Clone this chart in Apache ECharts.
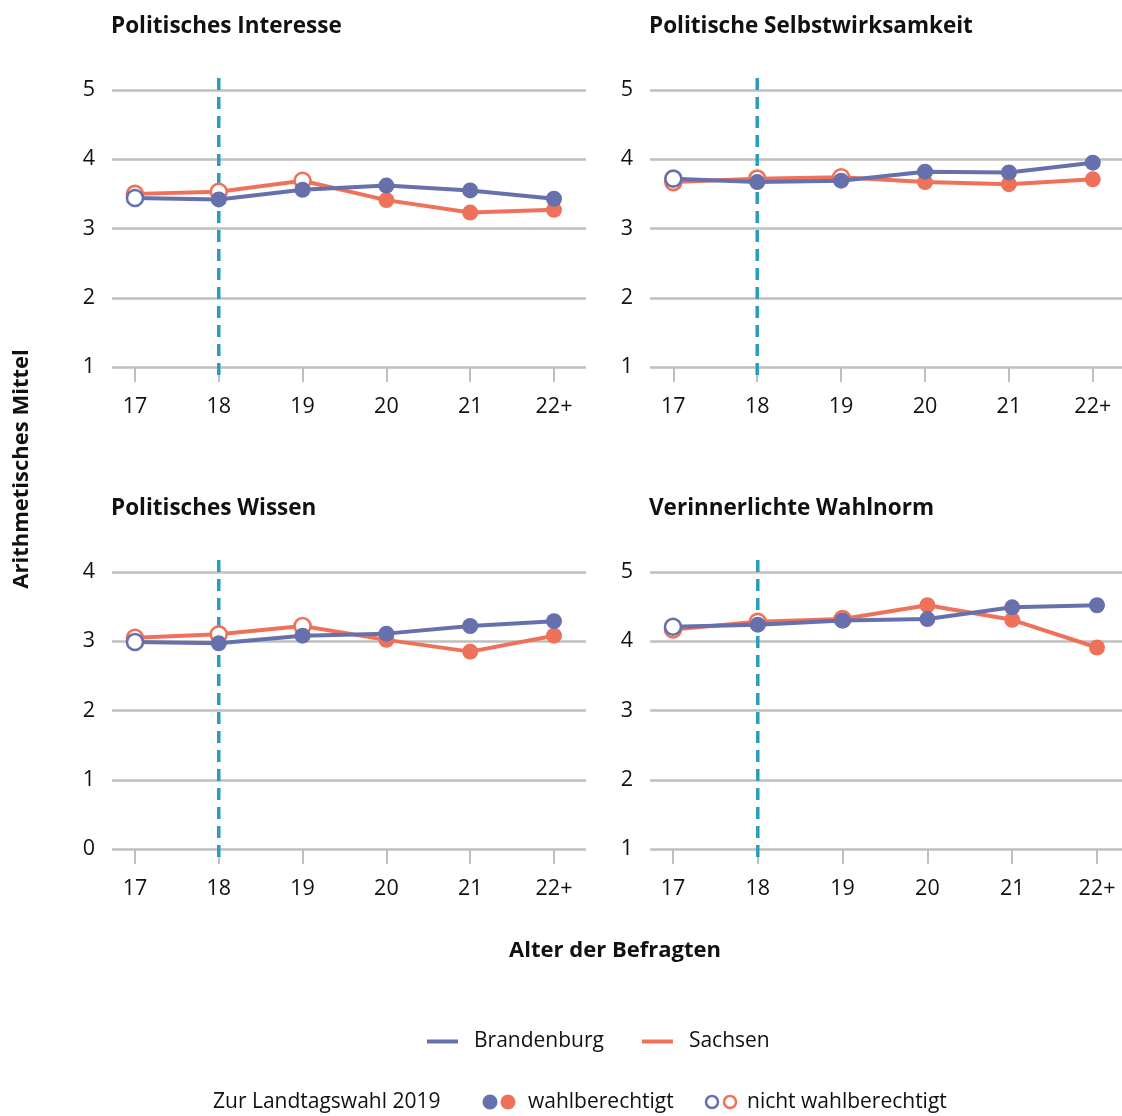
<!DOCTYPE html>
<html>
<head>
<meta charset="utf-8">
<script src="https://cdn.jsdelivr.net/npm/echarts@6/dist/echarts.min.js"></script>
<style>
html,body{margin:0;padding:0;background:#fff;}
#chart{width:1122px;height:1116px;}
</style>
</head>
<body>
<div id="chart"></div>
<script>
// ---- data ----
const AGES = [17, 18, 19, 20, 21, 22];
const AGE_LABELS = ['17', '18', '19', '20', '21', '22+'];
const VOTING_AGE = 18;

const PANEL_TITLES = ['Politisches Interesse', 'Politische Selbstwirksamkeit', 'Politisches Wissen', 'Verinnerlichte Wahlnorm'];

const BB_INTERESSE = [3.44, 3.42, 3.56, 3.62, 3.55, 3.43];
const SN_INTERESSE = [3.50, 3.53, 3.69, 3.41, 3.23, 3.27];
const BB_SELBST = [3.72, 3.67, 3.69, 3.82, 3.81, 3.95];
const SN_SELBST = [3.67, 3.72, 3.74, 3.67, 3.64, 3.71];
const BB_WISSEN = [2.99, 2.97, 3.08, 3.11, 3.22, 3.29];
const SN_WISSEN = [3.05, 3.10, 3.22, 3.02, 2.85, 3.08];
const BB_WAHLNORM = [4.21, 4.24, 4.30, 4.32, 4.49, 4.52];
const SN_WAHLNORM = [4.17, 4.28, 4.32, 4.52, 4.31, 3.91];

// eligible to vote in the 2019 state election
const BB_ELIGIBLE = [false, true, true, true, true, true];
const SN_ELIGIBLE = [false, false, false, true, true, true];

const Y_TICKS_1_5 = [1, 2, 3, 4, 5];
const Y_TICKS_0_4 = [0, 1, 2, 3, 4];

// ---- style ----
const BLUE = '#6570ad';
const ORANGE = '#f0715a';
const TEAL = '#2a9dbf';
const GRID_GRAY = '#bfbfbf';
const TEXT = '#111111';
const FONT = 'Open Sans';

const panels = [
  {title: PANEL_TITLES[0], bb: BB_INTERESSE, sn: SN_INTERESSE, yt: Y_TICKS_1_5,
   left: 112, top: 90, width: 474, xmin: 16.726, xmax: 22.382},
  {title: PANEL_TITLES[1], bb: BB_SELBST, sn: SN_SELBST, yt: Y_TICKS_1_5,
   left: 650, top: 90, width: 472, xmin: 16.722, xmax: 22.348},
  {title: PANEL_TITLES[2], bb: BB_WISSEN, sn: SN_WISSEN, yt: Y_TICKS_0_4,
   left: 112, top: 572, width: 474, xmin: 16.726, xmax: 22.382},
  {title: PANEL_TITLES[3], bb: BB_WAHLNORM, sn: SN_WAHLNORM, yt: Y_TICKS_1_5,
   left: 650, top: 572, width: 472, xmin: 16.729, xmax: 22.295}
];
const PANEL_H = 277;

const grids = [], xAxes = [], yAxes = [], series = [], titles = [];

function pts(values, eligible, color) {
  return values.map((v, i) => ({
    value: [AGES[i], v],
    itemStyle: eligible[i]
      ? {color: color, borderColor: color, borderWidth: 0}
      : {color: '#ffffff', borderColor: color, borderWidth: 2.6}
  }));
}

panels.forEach((p, k) => {
  grids.push({left: p.left, top: p.top, width: p.width, height: PANEL_H, containLabel: false});
  xAxes.push({
    type: 'value', gridIndex: k, min: p.xmin, max: p.xmax,
    axisLine: {show: false},
    splitLine: {show: false},
    axisTick: {show: true, customValues: AGES, length: 15, lineStyle: {color: GRID_GRAY, width: 2}},
    axisLabel: {show: true, customValues: AGES, margin: 29,
      formatter: v => AGE_LABELS[AGES.indexOf(Math.round(v))],
      fontFamily: FONT, fontSize: 21.5, color: TEXT}
  });
  const ymin = p.yt[0], ymax = p.yt[p.yt.length - 1];
  yAxes.push({
    type: 'value', gridIndex: k, min: ymin, max: ymax, interval: 1,
    axisLine: {show: false}, axisTick: {show: false},
    splitLine: {show: true, lineStyle: {color: GRID_GRAY, width: 2.5}},
    axisLabel: {fontFamily: FONT, fontSize: 21.5, color: TEXT, margin: 17}
  });
  const unit = PANEL_H / (ymax - ymin);
  series.push({
    type: 'line', xAxisIndex: k, yAxisIndex: k, silent: true, clip: false,
    symbol: 'none', z: 1,
    data: [[VOTING_AGE, ymax + 12 / unit], [VOTING_AGE, ymin - 15 / unit]],
    lineStyle: {color: TEAL, width: 3.5, type: [12, 7]}
  });
  series.push({
    name: 'Sachsen', type: 'line', xAxisIndex: k, yAxisIndex: k,
    symbol: 'circle', symbolSize: 16, z: 2,
    data: pts(p.sn, SN_ELIGIBLE, ORANGE),
    lineStyle: {color: ORANGE, width: 4},
    itemStyle: {color: ORANGE}
  });
  series.push({
    name: 'Brandenburg', type: 'line', xAxisIndex: k, yAxisIndex: k,
    symbol: 'circle', symbolSize: 16, z: 3,
    data: pts(p.bb, BB_ELIGIBLE, BLUE),
    lineStyle: {color: BLUE, width: 4},
    itemStyle: {color: BLUE}
  });
  titles.push({
    text: p.title, left: p.left - 1, top: p.top - 75, padding: 0,
    textStyle: {fontFamily: FONT, fontWeight: 'bold', fontSize: 22.5, color: TEXT}
  });
});

const chart = echarts.init(document.getElementById('chart'), null, {renderer: 'canvas'});
chart.setOption({
  backgroundColor: '#ffffff',
  animation: false,
  title: titles,
  grid: grids,
  xAxis: xAxes,
  yAxis: yAxes,
  series: series,
  legend: {
    data: ['Brandenburg', 'Sachsen'],
    top: 1026, left: 422, padding: 5,
    icon: 'rect', itemWidth: 31, itemHeight: 4, itemGap: 38,
    textStyle: {fontFamily: FONT, fontSize: 21, color: TEXT, padding: [0, 0, 0, 11]}
  },
  graphic: [
    {type: 'text', x: 22, y: 469, rotation: Math.PI / 2,
     style: {text: 'Arithmetisches Mittel', fontFamily: FONT, fontWeight: 'bold', fontSize: 22, fill: TEXT,
             align: 'center', verticalAlign: 'middle'}},
    {type: 'text', x: 615, y: 951,
     style: {text: 'Alter der Befragten', fontFamily: FONT, fontWeight: 'bold', fontSize: 22, fill: TEXT,
             align: 'center', verticalAlign: 'middle'}},
    {type: 'text', x: 213, y: 1102,
     style: {text: 'Zur Landtagswahl 2019', fontFamily: FONT, fontSize: 21, fill: TEXT, verticalAlign: 'middle'}},
    {type: 'circle', shape: {cx: 490, cy: 1102, r: 7.5}, style: {fill: BLUE}},
    {type: 'circle', shape: {cx: 508, cy: 1102, r: 7.5}, style: {fill: ORANGE}},
    {type: 'text', x: 528, y: 1102,
     style: {text: 'wahlberechtigt', fontFamily: FONT, fontSize: 21, fill: TEXT, verticalAlign: 'middle'}},
    {type: 'circle', shape: {cx: 712, cy: 1102, r: 6}, style: {fill: '#fff', stroke: BLUE, lineWidth: 2.5}},
    {type: 'circle', shape: {cx: 730, cy: 1102, r: 6}, style: {fill: '#fff', stroke: ORANGE, lineWidth: 2.5}},
    {type: 'text', x: 747, y: 1102,
     style: {text: 'nicht wahlberechtigt', fontFamily: FONT, fontSize: 21, fill: TEXT, verticalAlign: 'middle'}}
  ]
});
</script>
</body>
</html>
